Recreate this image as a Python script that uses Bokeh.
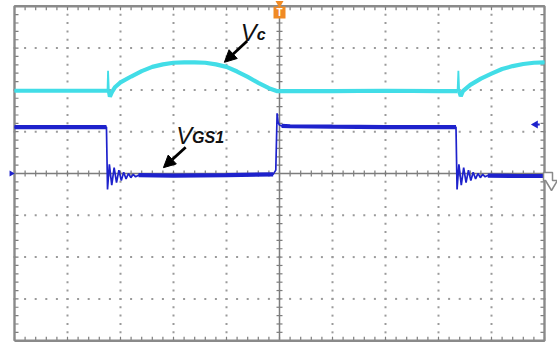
import numpy as np
from bokeh.plotting import figure
from bokeh.models import Range1d, Arrow, NormalHead
from bokeh.core.properties import value
from bokeh.embed import file_html
from bokeh.resources import INLINE

# ---- data (time and level in oscilloscope divisions) ----
vc_time = [0.0, 1.0, 1.74, 1.755, 1.765, 1.78, 1.80, 1.84, 1.9, 2.0, 2.2, 2.4, 2.6, 2.8, 3.0,
           3.2, 3.4, 3.6, 3.8, 4.0, 4.2, 4.4, 4.6, 4.8, 4.96, 5.2, 6.0, 7.0, 8.0, 8.36,
           8.375, 8.39, 8.42, 8.46, 8.6, 8.8, 9.0, 9.2, 9.4, 9.6, 9.8, 10.0]
vc_level = [1.98, 1.98, 1.98, 1.98, 2.46, 1.98, 1.84, 1.95, 2.07, 2.18, 2.32, 2.45, 2.55, 2.61, 2.65,
            2.66, 2.66, 2.65, 2.61, 2.55, 2.44, 2.31, 2.17, 2.04, 1.97, 1.97, 1.97, 1.98, 1.97, 1.97,
            2.46, 1.97, 1.85, 1.97, 2.12, 2.27, 2.39, 2.50, 2.57, 2.62, 2.65, 2.66]

vgs_time = [0.0, 1.0, 1.735, 1.755, 1.79, 1.835, 1.88, 1.925, 1.97, 2.015, 2.06, 2.105, 2.15,
            2.195, 2.24, 2.285, 2.34, 3.0, 4.0, 4.88, 4.93, 4.955, 4.975, 5.0, 5.04, 5.2, 6.0, 7.0,
            8.0, 8.33, 8.35, 8.385, 8.43, 8.475, 8.52, 8.565, 8.61, 8.655, 8.70, 8.745, 8.79,
            8.835, 8.88, 8.93, 9.5, 10.0]
vgs_level = [1.11, 1.11, 1.11, -0.38, 0.22, -0.28, 0.14, -0.22, 0.08, -0.17, 0.03, -0.13, 0.0,
             -0.10, -0.02, -0.08, -0.04, -0.05, -0.04, -0.02, 0.08, 1.44, 1.22, 1.16, 1.14, 1.13, 1.12, 1.11,
             1.11, 1.11, -0.38, 0.22, -0.28, 0.14, -0.22, 0.08, -0.17, 0.03, -0.13, 0.0, -0.10,
             -0.02, -0.08, -0.05, -0.06, -0.06]

CYAN = "#42DDE7"
BLUE = "#1E22CC"
GRID = "#9a9a9a"
AX = "#7d7d7d"

PXX = 53.0   # pixels per horizontal division
PXY = 41.8   # pixels per vertical division

p = figure(width=557, height=343, x_range=Range1d(-14 / PXX, (557 - 14) / PXX),
           y_range=Range1d((173 - 343) / PXY, 173 / PXY), output_backend="svg",
           toolbar_location=None, min_border=0,
           background_fill_color="white", border_fill_color="white")
p.axis.visible = False
p.grid.visible = False
p.outline_line_color = None

# ---- graticule ----
xs_minor = np.round(np.arange(0, 10.001, 0.2), 3)
ys_minor = np.round(np.arange(-4, 4.001, 0.2), 3)
dx, dy = [], []
for gy in [-3, -2, -1, 1, 2, 3]:
    for x in xs_minor:
        dx.append(x); dy.append(gy)
for gx in [1, 2, 3, 4, 6, 7, 8, 9]:
    for y in ys_minor:
        dx.append(gx); dy.append(y)
p.scatter(dx, dy, marker="square", size=2, fill_color=GRID, line_color=None)

p.line([0, 10], [0, 0], line_color=AX, line_width=1.5)
p.line([5, 5], [-4, 4], line_color=AX, line_width=1.5)
tx = 3 / PXX
ty = 3 / PXY
p.segment(x0=xs_minor, y0=[-ty] * len(xs_minor), x1=xs_minor, y1=[ty] * len(xs_minor),
          line_color=AX, line_width=1.2)
p.segment(x0=[5 - tx] * len(ys_minor), y0=ys_minor, x1=[5 + tx] * len(ys_minor), y1=ys_minor,
          line_color=AX, line_width=1.2)
ex = 4 / PXX
ey = 4 / PXY
p.segment(x0=xs_minor, y0=[4] * len(xs_minor), x1=xs_minor, y1=[4 - ey] * len(xs_minor),
          line_color=AX, line_width=1.2)
p.segment(x0=xs_minor, y0=[-4] * len(xs_minor), x1=xs_minor, y1=[-4 + ey] * len(xs_minor),
          line_color=AX, line_width=1.2)
p.segment(x0=[0] * len(ys_minor), y0=ys_minor, x1=[ex] * len(ys_minor), y1=ys_minor,
          line_color=AX, line_width=1.2)
p.segment(x0=[10] * len(ys_minor), y0=ys_minor, x1=[10 - ex] * len(ys_minor), y1=ys_minor,
          line_color=AX, line_width=1.2)
p.line([0, 10, 10, 0, 0], [-4, -4, 4, 4, -4], line_color="#8a8a8a", line_width=2.4)

# ---- traces: thin full trace (fast edges, spikes, ringing) + thick settled parts ----
p.line(vc_time, vc_level, line_color=CYAN, line_width=1.8)
for a, b in [(0, 4), (5, 30), (31, 42)]:
    p.line(vc_time[a:b], vc_level[a:b], line_color=CYAN, line_width=4.2)

p.line(vgs_time, vgs_level, line_color=BLUE, line_width=1.7)
for a, b in [(0, 3), (16, 20), (24, 30), (43, 46)]:
    p.line(vgs_time[a:b], vgs_level[a:b], line_color=BLUE, line_width=4.2)

# ---- scope markers ----
p.scatter([5.0], [4.07], marker="inverted_triangle", size=8, fill_color="#F08A24", line_color=None)
p.scatter([5.0], [3.85], marker="square", size=12, fill_color="#F08A24", line_color=None)
p.text([5.0], [3.85], text=["T"], text_color="white", text_font=value("Liberation Sans"),
       text_font_size="10px", text_font_style="bold", text_align="center", text_baseline="middle")
p.scatter([9.83], [1.17], marker="triangle", angle=np.pi / 2, size=8, fill_color=BLUE, line_color=None)
p.line([9.83, 9.91], [1.17, 1.17], line_color=BLUE, line_width=2)
p.scatter([-0.06], [0.0], marker="triangle", angle=-np.pi / 2, size=6, fill_color=BLUE, line_color=None)
fx = [(px - 14) / PXX for px in [543, 552, 552, 557, 551, 545, 543]]
fy = [(173 - py) / PXY for py in [172, 172, 180, 180, 190, 180, 180]]
p.patch(fx, fy, fill_color="white", line_color="#8a8a8a", line_width=1.5)

# ---- annotations ----
FONT = value("Liberation Sans")
p.text([4.27], [3.37], text=["V"], text_font=FONT, text_font_size="24px",
       text_font_style="italic", text_color="#111111", text_baseline="alphabetic")
p.text([4.57], [3.33], text=["c"], text_font=FONT, text_font_size="16px",
       text_font_style="bold italic", text_color="#111111", text_baseline="alphabetic")
p.add_layout(Arrow(end=NormalHead(size=12, fill_color="black", line_color="black"),
                   x_start=4.39, y_start=3.17, x_end=3.96, y_end=2.66,
                   line_color="black", line_width=2.8))

p.text([3.05], [0.91], text=["V"], text_font=FONT, text_font_size="24px",
       text_font_style="italic", text_color="#111111", text_baseline="alphabetic")
p.text([3.35], [0.87], text=["GS1"], text_font=FONT, text_font_size="16px",
       text_font_style="bold italic", text_color="#111111", text_baseline="alphabetic")
p.add_layout(Arrow(end=NormalHead(size=12, fill_color="black", line_color="black"),
                   x_start=3.23, y_start=0.63, x_end=2.81, y_end=0.14,
                   line_color="black", line_width=2.8))

open("out.html", "w").write(file_html(p, INLINE))
